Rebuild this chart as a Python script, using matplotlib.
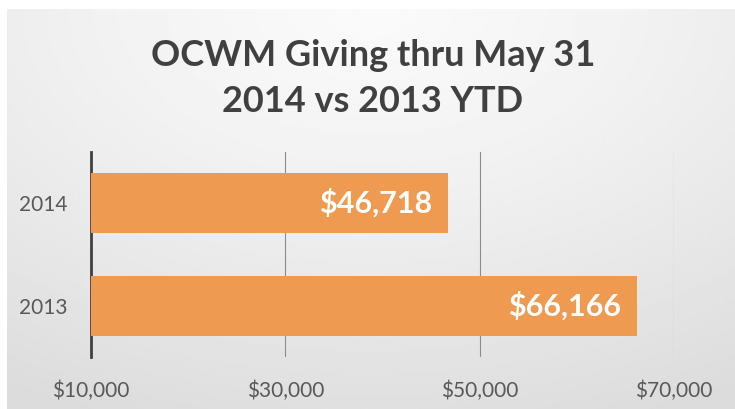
import matplotlib.pyplot as plt
import numpy as np

# data
years = ['2013', '2014']
giving = [66166, 46718]
labels = ['$66,166', '$46,718']
xticks = [10000, 30000, 50000, 70000]
xticklabels = ['$10,000', '$30,000', '$50,000', '$70,000']

plt.rcParams['font.family'] = ['Lato', 'DejaVu Sans']

W, H = 735, 409
fig = plt.figure(figsize=(W / 100, H / 100), dpi=100)
fig.patch.set_facecolor('white')

# gradient background (slide style)
bg = fig.add_axes([7 / W, 0, (W - 7) / W, (H - 9) / H])
yy, xx = np.mgrid[0:1:200j, 0:1:300j]
r = np.sqrt(((xx - 0.5) * 1.0) ** 2 + ((yy - 0.0) * 0.9) ** 2)
shade = 0.98 - 0.12 * np.clip(r, 0, 1) ** 1.3
bg.imshow(shade, cmap='gray', vmin=0, vmax=1, aspect='auto', extent=[0, 1, 0, 1],
          interpolation='bilinear')
bg.axis('off')

# title
fig.text(373 / W, 1 - 55 / H, 'OCWM Giving thru May 31', ha='center', va='center',
         fontsize=26, fontweight='bold', color='#404040')
fig.text(373 / W, 1 - 101 / H, '2014 vs 2013 YTD', ha='center', va='center',
         fontsize=26, fontweight='bold', color='#404040')

# chart
ax = fig.add_axes([91 / W, (H - 357) / H, (674 - 91) / W, (357 - 152) / H])
ax.patch.set_alpha(0)
ypos = np.arange(len(years))
ax.barh(ypos, [g - 10000 for g in giving], left=10000, height=0.59, color='#EE9A50', zorder=3)
for y, g, lab in zip(ypos, giving, labels):
    ax.text(g - 1600, y, lab, ha='right', va='center', color='white',
            fontsize=22, fontweight='bold', zorder=4)

ax.set_xlim(10000, 70000)
ax.set_ylim(-0.5, 1.5)
ax.set_xticks(xticks)
ax.set_xticklabels(xticklabels)
ax.set_yticks(ypos)
ax.set_yticklabels(years)
ax.grid(axis='x', color='#8c8c8c', linewidth=0.8, zorder=0)
for s in ['top', 'right', 'bottom']:
    ax.spines[s].set_visible(False)
ax.spines['left'].set_color('#404040')
ax.spines['left'].set_linewidth(2)
ax.tick_params(axis='both', length=0, colors='#595959', labelsize=15)
ax.tick_params(axis='x', pad=17)
ax.tick_params(axis='y', pad=17)

fig.savefig('out.png', dpi=100)
